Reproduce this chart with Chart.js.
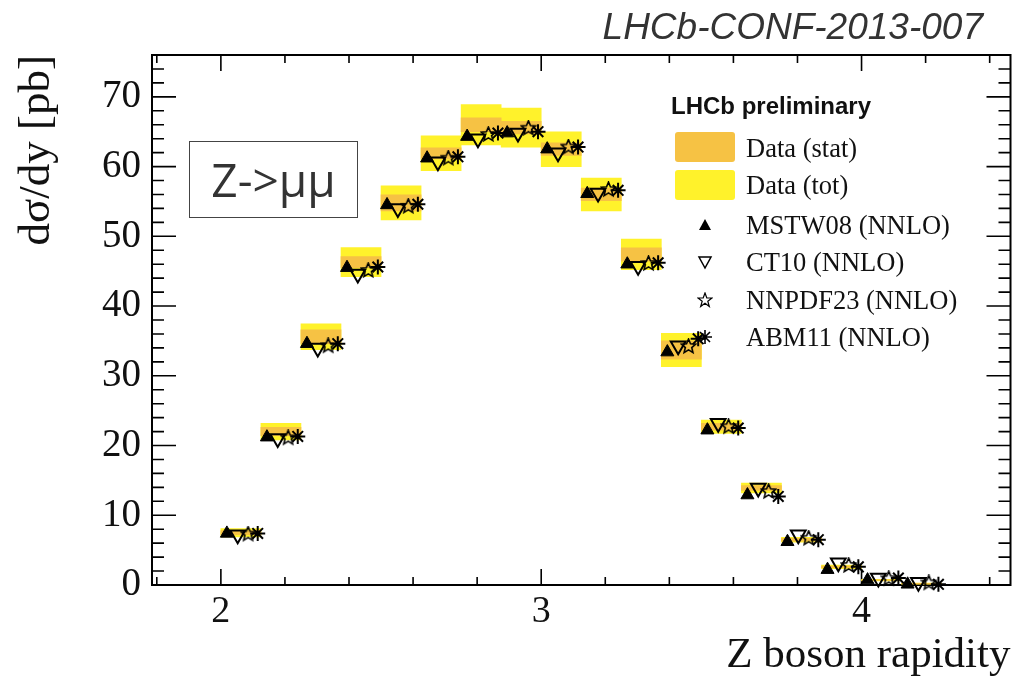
<!DOCTYPE html>
<html lang="en">
<head>
    <meta charset="UTF-8">
    <title>Z->mumu differential cross-section</title>
    <script src="https://cdn.jsdelivr.net/npm/chart.js"></script>
    <style>
        body { margin: 0; background: #fff; }
        #wrap { position: relative; width: 1021px; height: 682px; }
        #conf { position: absolute; right: 38px; top: 6px; font: italic 37px "Liberation Sans", Arial, sans-serif; color: #333; }
        #channel { position: absolute; left: 189px; top: 141px; width: 167px; height: 75px; border: 1.5px solid #444;
                   font: 46px "Open Sans", sans-serif; color: #333; text-align: center; line-height: 74px; }
        .leg { position: absolute; left: 746px; height: 30px; line-height: 30px; font: 26.5px "Liberation Serif", serif; color: #111; }
        .sw { position: absolute; left: 675px; width: 60px; height: 30px; border-radius: 3px; }
        .mk { position: absolute; left: 697px; width: 16px; height: 16px; }
        #lhcb { position: absolute; left: 671px; top: 92px; font: bold 24px "Liberation Sans", Arial, sans-serif; color: #111; }
    </style>
</head>
<body>
<div id="wrap">
    <canvas id="xsec" width="1021" height="682"></canvas>
    <div id="conf">LHCb-CONF-2013-007</div>
    <div id="channel">Z-&gt;μμ</div>

    <!-- legend -->
    <div id="lhcb">LHCb preliminary</div>
    <div class="sw" style="top:132px;background:#f6c244"></div>
    <div class="leg" style="top:133px">Data (stat)</div>
    <div class="sw" style="top:170px;background:#fff22b"></div>
    <div class="leg" style="top:170px">Data (tot)</div>
    <svg class="mk" style="top:217px" viewBox="0 0 16 16"><polygon points="8,2 14,13 2,13" fill="#000"/></svg>
    <div class="leg" style="top:210px">MSTW08 (NNLO)</div>
    <svg class="mk" style="top:254px" viewBox="0 0 16 16"><polygon points="2,3 14,3 8,14" fill="none" stroke="#000" stroke-width="1.5"/></svg>
    <div class="leg" style="top:247px">CT10 (NNLO)</div>
    <svg class="mk" style="top:292px" viewBox="0 0 16 16"><polygon points="8,1 9.8,6 15,6 10.8,9.2 12.3,14.5 8,11.3 3.7,14.5 5.2,9.2 1,6 6.2,6" fill="none" stroke="#000" stroke-width="1.2"/></svg>
    <div class="leg" style="top:285px">NNPDF23 (NNLO)</div>
    <svg class="mk" style="top:329px" viewBox="0 0 16 16"><path d="M8 1V15M1 8H15M3 3L13 13M13 3L3 13" stroke="#000" stroke-width="1.6"/></svg>
    <div class="leg" style="top:322px">ABM11 (NNLO)</div>
</div>

<script>
    // rapidity bins (lower edges), width 0.125
    const binLow = [2.0, 2.125, 2.25, 2.375, 2.5, 2.625, 2.75, 2.875, 3.0,
                    3.125, 3.25, 3.375, 3.5, 3.625, 3.75, 3.875, 4.0, 4.125];
    const binWidth = 0.125;

    // measured dsigma/dy [pb] with stat and total uncertainties
    const dataXsec = [7.5, 22.0, 35.6, 46.3, 54.8, 61.9, 66.0, 65.6, 62.5,
                      56.0, 47.4, 33.7, 22.7, 13.9, 6.5, 2.6, 0.7, 0.2];
    const statErr  = [0.3, 0.6, 1.0, 0.8, 1.15, 0.8, 1.0, 0.9, 0.9,
                      0.9, 0.95, 1.3, 0.5, 0.35, 0.2, 0.12, 0.05, 0.04];
    const totErr   = [0.6, 1.2, 1.85, 2.1, 2.45, 2.5, 2.9, 2.8, 2.5,
                      2.35, 2.2, 2.4, 0.95, 0.7, 0.35, 0.25, 0.1, 0.08];

    // NNLO predictions
    const mstw08  = [7.4, 21.2, 34.6, 45.5, 54.5, 61.2, 64.3, 64.8, 62.5,
                     56.1, 46.0, 33.4, 22.2, 12.9, 6.2, 2.2, 0.7, 0.1];
    const ct10    = [7.2, 21.0, 34.0, 44.6, 54.0, 60.7, 64.0, 64.8, 62.0,
                     56.2, 45.7, 34.3, 23.2, 13.9, 7.2, 3.2, 1.0, 0.4];
    const nnpdf23 = [7.3, 21.1, 34.3, 45.1, 54.3, 61.2, 64.6, 65.5, 62.8,
                     56.7, 46.1, 34.2, 22.7, 13.4, 6.7, 2.8, 0.9, 0.3];
    const abm11   = [7.4, 21.3, 34.6, 45.6, 54.6, 61.4, 64.8, 65.0, 62.8,
                     56.6, 46.2, 35.3, 22.5, 12.7, 6.5, 2.6, 1.0, 0.1];

    const xTickLabels = ['2', '3', '4'];

    // where inside a bin each prediction is drawn (fraction of bin width)
    const shift = { mstw: 0.15, ct10: 0.42, nnpdf: 0.68, abm: 0.92 };

    function openStar(size) {
        const c = document.createElement('canvas');
        c.width = c.height = size;
        const g = c.getContext('2d');
        const r1 = size / 2 - 1, r2 = r1 * 0.45;
        g.beginPath();
        for (let i = 0; i < 10; i++) {
            const r = i % 2 ? r2 : r1;
            const a = -Math.PI / 2 + i * Math.PI / 5;
            g.lineTo(size / 2 + r * Math.cos(a), size / 2 + r * Math.sin(a));
        }
        g.closePath();
        g.lineWidth = 1.6;
        g.strokeStyle = '#000';
        g.stroke();
        return c;
    }

    const centre = binLow.map(b => b + binWidth / 2);
    const band = (err) => centre.map((x, i) => ({ x: x, y: [dataXsec[i] - err[i], dataXsec[i] + err[i]] }));
    const pts = (vals, f) => vals.map((v, i) => ({ x: binLow[i] + binWidth * f, y: v }));

    // frame + ROOT style inward ticks on all four sides
    const frame = {
        id: 'frame',
        beforeDatasetsDraw(chart) {
            const { ctx, chartArea: a, scales: { x, y } } = chart;
            ctx.save();
            ctx.strokeStyle = '#000';
            ctx.lineWidth = 2;
            ctx.strokeRect(a.left, a.top, a.right - a.left, a.bottom - a.top);
            ctx.lineWidth = 1.6;
            ctx.beginPath();
            x.ticks.forEach(t => {
                const px = x.getPixelForValue(t.value);
                const len = Math.abs(t.value - Math.round(t.value)) < 1e-6 ? 16 : 8;
                ctx.moveTo(px, a.bottom); ctx.lineTo(px, a.bottom - len);
                ctx.moveTo(px, a.top); ctx.lineTo(px, a.top + len);
            });
            y.ticks.forEach(t => {
                const py = y.getPixelForValue(t.value);
                const len = t.value % 10 === 0 ? 24 : 12;
                ctx.moveTo(a.left, py); ctx.lineTo(a.left + len, py);
                ctx.moveTo(a.right, py); ctx.lineTo(a.right - len, py);
            });
            ctx.stroke();
            ctx.restore();
        }
    };

    const serif = '"Liberation Serif", "Times New Roman", serif';

    new Chart(document.getElementById('xsec'), {
        type: 'scatter',
        data: {
            datasets: [
                { label: 'MSTW08 (NNLO)', data: pts(mstw08, shift.mstw), order: 0, clip: false,
                  pointStyle: 'triangle', pointRadius: 7.5, backgroundColor: '#000', borderColor: '#000', borderWidth: 1 },
                { label: 'CT10 (NNLO)', data: pts(ct10, shift.ct10), order: 1, clip: false,
                  pointStyle: 'triangle', rotation: 180, pointRadius: 8.5, backgroundColor: 'rgba(0,0,0,0)', borderColor: '#000', borderWidth: 2 },
                { label: 'NNPDF23 (NNLO)', data: pts(nnpdf23, shift.nnpdf), order: 2, clip: false,
                  pointStyle: openStar(17), pointRadius: 8 },
                { label: 'ABM11 (NNLO)', data: pts(abm11, shift.abm), order: 3, clip: false,
                  pointStyle: 'star', pointRadius: 7.5, backgroundColor: '#000', borderColor: '#000', borderWidth: 2 },
                { type: 'bar', label: 'Data (stat)', data: band(statErr), order: 4, grouped: false,
                  backgroundColor: '#f6c244', borderWidth: 0, barPercentage: 1, categoryPercentage: 1 },
                { type: 'bar', label: 'Data (tot)', data: band(totErr), order: 5, grouped: false,
                  backgroundColor: '#fff22b', borderWidth: 0, barPercentage: 1, categoryPercentage: 1 }
            ]
        },
        options: {
            responsive: false,
            animation: false,
            events: [],
            layout: { padding: { left: 0, top: 55, right: 5, bottom: 0 } },
            plugins: { legend: { display: false }, tooltip: { enabled: false } },
            scales: {
                x: {
                    type: 'linear', min: 1.785, max: 4.465, offset: false,
                    grid: { display: false, drawTicks: false }, border: { display: false },
                    ticks: {
                        stepSize: 0.2, includeBounds: false, autoSkip: false, maxRotation: 0, padding: 4,
                        color: '#111', font: { family: serif, size: 38 },
                        callback: v => {
                            const r = Math.round(v);
                            return Math.abs(v - r) < 1e-6 && xTickLabels.includes(String(r)) ? String(r) : '';
                        }
                    },
                    title: { display: true, text: 'Z boson rapidity', align: 'end', color: '#111',
                             font: { family: serif, size: 43 }, padding: 0 },
                    afterFit: s => { s.height = 97; }
                },
                y: {
                    min: 0, max: 76,
                    grid: { display: false, drawTicks: false }, border: { display: false },
                    ticks: {
                        stepSize: 2, autoSkip: false, padding: 11,
                        color: '#111', font: { family: serif, size: 39 },
                        callback: v => (v % 10 === 0 ? String(v) : '')
                    },
                    title: { display: true, text: 'dσ/dy [pb]', align: 'end', color: '#111',
                             font: { family: serif, size: 45 }, padding: { top: 10 } },
                    afterFit: s => { s.width = 152; }
                }
            }
        },
        plugins: [frame]
    });
</script>
</body>
</html>
